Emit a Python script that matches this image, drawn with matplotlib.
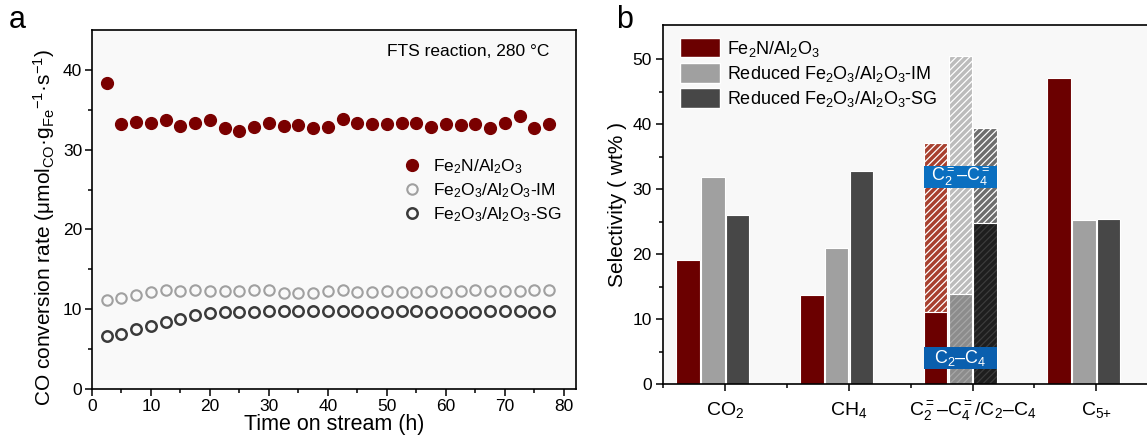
import matplotlib.pyplot as plt
import numpy as np
from matplotlib.patches import Patch, Rectangle
from matplotlib.lines import Line2D

plt.rcParams['font.family'] = ['Liberation Sans', 'DejaVu Sans']
plt.rcParams['mathtext.fontset'] = 'custom'
plt.rcParams['mathtext.rm'] = 'Liberation Sans'
plt.rcParams['mathtext.it'] = 'Liberation Sans:italic'
plt.rcParams['mathtext.bf'] = 'Liberation Sans:bold'
plt.rcParams['hatch.linewidth'] = 0.9

# Data (a): CO conversion rate vs time on stream
time_h = np.arange(2.5, 78, 2.5)
rate_fe2n = [38.3, 33.2, 33.5, 33.3, 33.7, 33.0, 33.3, 33.75, 32.7, 32.3, 32.9,
             33.3, 33.0, 33.1, 32.7, 32.9, 33.8, 33.3, 33.2, 33.2, 33.4, 33.3,
             32.9, 33.2, 33.1, 33.2, 32.7, 33.3, 34.25, 32.7, 33.2]
rate_im = [11.1, 11.4, 11.8, 12.2, 12.35, 12.3, 12.35, 12.3, 12.3, 12.3, 12.4,
           12.35, 12.05, 12.0, 12.0, 12.3, 12.4, 12.2, 12.2, 12.3, 12.2, 12.1,
           12.3, 12.2, 12.3, 12.35, 12.3, 12.3, 12.3, 12.4, 12.35]
rate_sg = [6.6, 6.9, 7.5, 7.95, 8.4, 8.8, 9.25, 9.5, 9.65, 9.7, 9.7,
           9.75, 9.8, 9.75, 9.75, 9.8, 9.75, 9.75, 9.7, 9.7, 9.75, 9.75,
           9.7, 9.7, 9.7, 9.6, 9.75, 9.75, 9.75, 9.7, 9.75]

# Data (b): product selectivity
categories = ['CO$_2$', 'CH$_4$', 'C$_2^{=}$–C$_4^{=}$/C$_2$–C$_4$', 'C$_{5{+}}$']
sel_fe2n = [19.1, 13.7, 11.1, 47.2]
sel_im = [31.9, 21.0, 13.9, 25.3]
sel_sg = [26.0, 32.8, 24.8, 25.5]
# total C2-C4 (hatched part top) for the third category
c2c4_total = [37.1, 50.6, 39.5]
box_olefin = (30.2, 33.6)
box_paraffin = (2.3, 5.7)

red = '#6b0000'
gray = '#a0a0a0'
dark = '#474747'

fig = plt.figure(figsize=(11.47, 4.42), dpi=100)

# ---------------- panel a ----------------
ax1 = fig.add_axes([0.0802, 0.1199, 0.4218, 0.8121])
ax1.set_facecolor('#f9f9f9')
ax1.plot(time_h, rate_fe2n, 'o', ms=8.5, color='#7a0000', mec='#7a0000', ls='none')
ax1.plot(time_h, rate_im, 'o', ms=7.5, mfc='none', mec='#a0a0a0', mew=1.5, ls='none')
ax1.plot(time_h, rate_sg, 'o', ms=7.5, mfc='none', mec='#3a3a3a', mew=1.8, ls='none')
ax1.set_xlim(0, 82)
ax1.set_ylim(0, 45)
ax1.set_xticks(np.arange(0, 81, 10))
ax1.set_xticks(np.arange(0, 81, 5), minor=True)
ax1.set_yticks(np.arange(0, 41, 10))
ax1.set_yticks(np.arange(0, 41, 5), minor=True)
ax1.tick_params(which='both', direction='out', width=1.1, labelsize=12.5, pad=2)
ax1.tick_params(which='major', length=5)
ax1.tick_params(which='minor', length=3)
for s in ax1.spines.values():
    s.set_linewidth(1.2)
ax1.set_xlabel('Time on stream (h)', fontsize=15.5, labelpad=0)
ax1.set_ylabel('CO conversion rate (μmol$_{\\mathrm{CO}}$·g$_{\\mathrm{Fe}}$$^{-1}$·s$^{-1}$)',
               fontsize=15, labelpad=4)
ax1.yaxis.label.set_y(0.45)
ax1.text(0.61, 0.94, 'FTS reaction, 280 °C', transform=ax1.transAxes, fontsize=12.5,
         va='center', ha='left')
handles_a = [
    Line2D([], [], ls='none', marker='o', ms=8.5, color='#7a0000'),
    Line2D([], [], ls='none', marker='o', ms=7.5, mfc='none', mec='#a0a0a0', mew=1.5),
    Line2D([], [], ls='none', marker='o', ms=7.5, mfc='none', mec='#3a3a3a', mew=1.8),
]
labels_a = ['Fe$_2$N/Al$_2$O$_3$', 'Fe$_2$O$_3$/Al$_2$O$_3$-IM', 'Fe$_2$O$_3$/Al$_2$O$_3$-SG']
ax1.legend(handles_a, labels_a, loc='upper left', bbox_to_anchor=(0.625, 0.665),
           frameon=False, fontsize=12.5, handletextpad=0.6, labelspacing=0.3,
           borderaxespad=0, handlelength=1.2)
fig.text(0.008, 0.955, 'a', fontsize=22, va='center', ha='left')

# ---------------- panel b ----------------
ax2 = fig.add_axes([0.5778, 0.1305, 0.4427, 0.8129])
ax2.set_facecolor('#f8f8f8')
x = np.arange(len(categories))
w = 0.19
offsets = [-0.3, -0.1, 0.1]
ax2.bar(x + offsets[0], sel_fe2n, w, color=red, edgecolor='white', lw=0.8, zorder=2)
ax2.bar(x[[0, 1, 3]] + offsets[1], np.array(sel_im)[[0, 1, 3]], w, color=gray,
        edgecolor='white', lw=0.8, zorder=2)
ax2.bar(x[[0, 1, 3]] + offsets[2], np.array(sel_sg)[[0, 1, 3]], w, color=dark,
        edgecolor='white', lw=0.8, zorder=2)

# hatched C2-C4 segments in the third group
i = 2
lower = [sel_fe2n[i], sel_im[i], sel_sg[i]]
upper_face = ['#a8402f', '#bcbcbc', '#6e6e6e']
lower_face = [red, '#8c8c8c', '#1e1e1e']
lower_hatch = [None, '#a6a6a6', '#3c3c3c']
for k in range(3):
    ax2.bar(x[i] + offsets[k], c2c4_total[k] - lower[k], w, bottom=lower[k],
            color=upper_face[k], edgecolor='white', hatch='/////', lw=0.8, zorder=2)
    if lower_hatch[k] is None:
        ax2.bar(x[i] + offsets[k], lower[k], w, color=lower_face[k],
                edgecolor='white', lw=0.8, zorder=2)
    else:
        ax2.bar(x[i] + offsets[k], lower[k], w, color=lower_face[k],
                edgecolor=lower_hatch[k], hatch='/////', lw=0, zorder=2)
        ax2.bar(x[i] + offsets[k], lower[k], w, color='none',
                edgecolor='white', lw=0.8, zorder=2)

bx0 = x[i] + offsets[0] - w / 2
bx1 = x[i] + offsets[2] + w / 2
ax2.add_patch(Rectangle((bx0, box_olefin[0]), bx1 - bx0, box_olefin[1] - box_olefin[0],
                        color='#0a6fc0', zorder=3, lw=0))
ax2.add_patch(Rectangle((bx0, box_paraffin[0]), bx1 - bx0, box_paraffin[1] - box_paraffin[0],
                        color='#0a5fae', zorder=3, lw=0))
ax2.text((bx0 + bx1) / 2, np.mean(box_olefin), 'C$_2^{=}$–C$_4^{=}$', color='white',
         fontsize=13, ha='center', va='center', zorder=4)
ax2.text((bx0 + bx1) / 2, np.mean(box_paraffin), 'C$_2$–C$_4$', color='white',
         fontsize=13, ha='center', va='center', zorder=4)

ax2.set_xlim(-0.506, 3.6)
ax2.set_ylim(0, 55.3)
ax2.set_xticks(x)
ax2.set_xticklabels(categories, fontsize=14)
ax2.set_xticks(np.arange(-0.5, 3.6, 1.0), minor=True)
ax2.set_yticks(np.arange(0, 51, 10))
ax2.set_yticks(np.arange(0, 51, 5), minor=True)
ax2.tick_params(which='both', direction='out', width=1.1, labelsize=12.5, pad=3)
ax2.tick_params(axis='x', labelsize=14, pad=6)
ax2.tick_params(which='major', length=5)
ax2.tick_params(which='minor', length=3)
for s in ax2.spines.values():
    s.set_linewidth(1.2)
ax2.set_ylabel('Selectivity ( wt% )', fontsize=15, labelpad=4)
handles_b = [Patch(facecolor=red, edgecolor='white'),
             Patch(facecolor=gray, edgecolor='white'),
             Patch(facecolor=dark, edgecolor='white')]
labels_b = ['Fe$_2$N/Al$_2$O$_3$', 'Reduced Fe$_2$O$_3$/Al$_2$O$_3$-IM',
            'Reduced Fe$_2$O$_3$/Al$_2$O$_3$-SG']
ax2.legend(handles_b, labels_b, loc='upper left', bbox_to_anchor=(0.01, 1.0),
           frameon=False, fontsize=13, handlelength=2.2, handleheight=1.3,
           handletextpad=0.4, labelspacing=0.25, borderaxespad=0.3)
fig.text(0.537, 0.955, 'b', fontsize=22, va='center', ha='left')

plt.savefig('out.png', dpi=100)
